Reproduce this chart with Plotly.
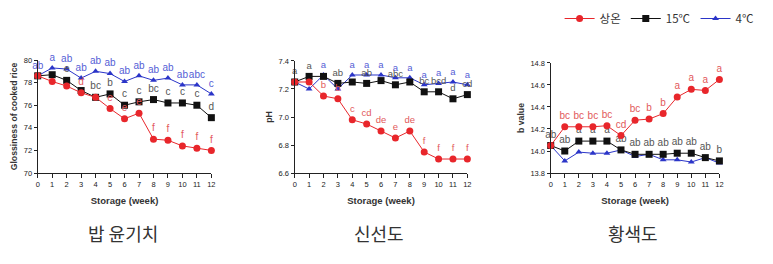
import plotly.graph_objects as go

weeks = list(range(13))
week_ticks = [str(w) for w in weeks]

series_names = ["상온", "15℃", "4℃"]

# Panel 1: Glossiness of cooked rice
gloss_room = [78.6, 78.1, 77.7, 77.1, 76.7, 75.7, 74.8, 75.3, 73.0, 72.9, 72.4, 72.2, 72.0]
gloss_15 = [78.6, 78.7, 78.2, 77.3, 76.7, 77.0, 76.0, 76.3, 76.5, 76.2, 76.2, 76.0, 74.9]
gloss_4 = [78.6, 79.3, 79.2, 78.4, 79.0, 78.8, 78.1, 78.6, 78.2, 78.4, 77.8, 77.8, 77.0]
gloss_room_lbl = ["", "", "", "d", "", "e", "e", "e", "f", "f", "f", "f", "f"]
gloss_15_lbl = ["", "", "e", "", "bc", "b", "c", "c", "bc", "c", "c", "c", "d"]
gloss_4_lbl = ["ab", "a", "ab", "ab", "ab", "ab", "ab", "ab", "ab", "ab", "ab", "abc", "c"]

# Panel 2: pH
ph_room = [7.25, 7.25, 7.15, 7.13, 6.98, 6.95, 6.90, 6.85, 6.90, 6.75, 6.70, 6.70, 6.70]
ph_15 = [7.25, 7.29, 7.29, 7.24, 7.25, 7.24, 7.26, 7.23, 7.25, 7.18, 7.18, 7.13, 7.16]
ph_4 = [7.25, 7.20, 7.30, 7.20, 7.30, 7.30, 7.30, 7.28, 7.28, 7.23, 7.24, 7.25, 7.23]
ph_room_lbl = ["", "", "b", "b", "c", "cd", "de", "e", "de", "f", "f", "f", "f"]
ph_15_lbl = ["a", "a", "", "ab", "", "ab", "", "abc", "", "bc", "bcd", "d", "cd"]
ph_4_lbl = ["", "", "a", "", "a", "a", "a", "a", "a", "a", "a", "a", "a"]

# Panel 3: b value
b_room = [14.05, 14.22, 14.22, 14.22, 14.23, 14.14, 14.28, 14.29, 14.34, 14.49, 14.56, 14.55, 14.65]
b_15 = [14.05, 14.00, 14.09, 14.09, 14.09, 14.01, 13.97, 13.97, 13.97, 13.98, 13.98, 13.94, 13.91]
b_4 = [14.05, 13.91, 13.99, 13.98, 13.98, 14.01, 13.95, 13.97, 13.92, 13.92, 13.90, 13.94, 13.89]
b_room_lbl = ["", "bc", "bc", "bc", "bc", "cd", "bc", "b", "b", "a", "a", "a", "a"]
b_15_lbl = ["ab", "ab", "a", "a", "a", "ab", "ab", "ab", "ab", "ab", "ab", "ab", "b"]
b_4_lbl = ["", "", "", "", "", "", "", "", "", "", "", "", ""]

y_titles = ["Glossiness of cooked rice", "pH", "b value"]
x_title = "Storage (week)"
panel_titles = ["밥 윤기치", "신선도", "황색도"]
y_ranges = [[70, 80], [6.6, 7.4], [13.8, 14.8]]
y_dticks = [2, 0.2, 0.2]

line_colors = ["#e8262b", "#111111", "#2b35c8"]
lbl_colors = ["#e2595b", "#555555", "#5560d6"]
symbols = ["circle", "square", "triangle-up"]
sizes = [7, 7, 6]

panels = [
    (gloss_room, gloss_15, gloss_4, gloss_room_lbl, gloss_15_lbl, gloss_4_lbl),
    (ph_room, ph_15, ph_4, ph_room_lbl, ph_15_lbl, ph_4_lbl),
    (b_room, b_15, b_4, b_room_lbl, b_15_lbl, b_4_lbl),
]

x_domains = [[36 / 773, 211 / 773], [295 / 773, 469 / 773], [553 / 773, 723 / 773]]
y_domains = [[1 - 175 / 264, 1 - 58 / 264], [1 - 175 / 264, 1 - 59 / 264], [1 - 175 / 264, 1 - 61 / 264]]

FONT = "Liberation Sans, Arial, sans-serif"
KFONT = "Noto Sans CJK KR, sans-serif"

fig = go.Figure()
layout = dict(
    width=773, height=264,
    margin=dict(l=0, r=0, t=0, b=0),
    paper_bgcolor="white", plot_bgcolor="white",
    font=dict(family=FONT, color="#333"),
    showlegend=True,
    legend=dict(
        orientation="h", x=0.727, y=1.0, xanchor="left", yanchor="top",
        font=dict(family=KFONT, size=11.5, color="#333"),
        itemwidth=30, bgcolor="rgba(0,0,0,0)", tracegroupgap=0,
    ),
    annotations=[],
)

for p, data in enumerate(panels):
    xa = "x" if p == 0 else f"x{p+1}"
    ya = "y" if p == 0 else f"y{p+1}"
    vals = data[:3]
    lbls = data[3:]
    for s in [2, 1, 0]:
        fig.add_trace(go.Scatter(
            x=weeks, y=vals[s], xaxis=xa, yaxis=ya,
            mode="lines+markers+text",
            name=series_names[s],
            legendrank=s,
            showlegend=(p == 0),
            line=dict(color=line_colors[s], width=1),
            marker=dict(symbol=symbols[s], size=sizes[s], color=line_colors[s]),
            text=lbls[s], textposition="top center",
            textfont=dict(family=FONT, size=9.5 if p == 1 else 10, color=lbl_colors[s]),
            cliponaxis=False,
        ))
    key = "" if p == 0 else str(p + 1)
    layout["xaxis" + key] = dict(
        domain=x_domains[p], anchor=ya, range=[0, 12],
        tickmode="array", tickvals=weeks, ticktext=week_ticks,
        ticks="outside", ticklen=4, tickwidth=1, tickcolor="#222",
        showline=True, linecolor="#222", linewidth=1.3,
        showgrid=False, zeroline=False,
        tickfont=dict(family=FONT, size=7.5, color="#222"),
        title=dict(text="<b>" + x_title + "</b>", font=dict(family=FONT, size=9.5, color="#333"), standoff=9),
    )
    layout["yaxis" + key] = dict(
        domain=y_domains[p], anchor=xa, range=y_ranges[p], dtick=y_dticks[p],
        tickformat=".1f" if p > 0 else "d",
        ticks="outside", ticklen=3, tickwidth=1, tickcolor="#222",
        showline=True, linecolor="#222", linewidth=1.3,
        showgrid=False, zeroline=False,
        tickfont=dict(family=FONT, size=7.5, color="#222"),
        title=dict(text="<b>" + y_titles[p] + "</b>", font=dict(family=FONT, size=8.7, color="#333"), standoff=4),
    )
    layout["annotations"].append(dict(
        text=panel_titles[p], xref="paper", yref="paper",
        x=sum(x_domains[p]) / 2 - 2 / 773, y=1 - 237 / 264,
        xanchor="center", yanchor="middle", showarrow=False,
        font=dict(family=KFONT, size=18, color="#333"),
    ))

fig.update_layout(**layout)
fig.write_html("out.html")
